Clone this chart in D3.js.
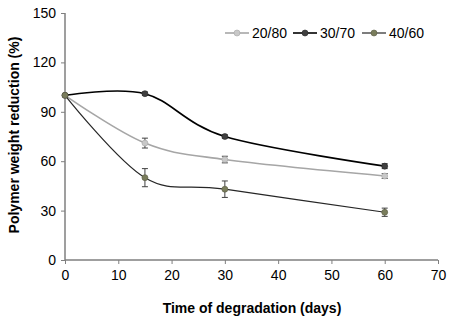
<!DOCTYPE html>
<html>
<head>
<meta charset="utf-8" />
<title>Polymer weight reduction</title>
<style>
  body { margin: 0; background: #fff; }
  svg text { font-family: "Liberation Sans", Arial, sans-serif; fill: #000; }
  .axis path, .axis line { stroke: #7f7f7f; }
</style>
</head>
<body>
<div id="chart"></div>
<script src="https://d3js.org/d3.v7.min.js"></script>
<script>
// days of degradation
const days = [0, 15, 30, 60];
const seriesNames = ["20/80", "30/70", "40/60"];
const vals2080 = [100, 71, 61, 51];
const vals3070 = [100, 101, 75, 57];
const vals4060 = [100, 50, 43, 29];
const err2080 = [0, 3, 2, 1.5];
const err3070 = [0, 1, 1, 1.5];
const err4060 = [0, 5.5, 5, 2.5];
const xTicks = [0, 10, 20, 30, 40, 50, 60, 70];
const yTicks = [0, 30, 60, 90, 120, 150];

const width = 450, height = 321;
const svg = d3.select("#chart").append("svg")
  .attr("width", width)
  .attr("height", height);

const x = d3.scaleLinear().domain([0, 70]).range([65, 438]);
const y = d3.scaleLinear().domain([0, 150]).range([260, 13]);

// axes
svg.append("g")
  .attr("class", "axis")
  .attr("transform", "translate(0,260)")
  .call(d3.axisBottom(x).tickValues(xTicks).tickSize(4).tickPadding(6).tickFormat(d3.format("d")))
  .call(g => g.selectAll("text").attr("font-size", 14).style("fill", "#000"))
  .call(g => g.select(".domain").attr("d", "M65,0H438").attr("stroke-width", 1.5));

svg.append("g")
  .attr("class", "axis")
  .attr("transform", "translate(65,0)")
  .call(d3.axisLeft(y).tickValues(yTicks).tickSize(4).tickPadding(5).tickFormat(d3.format("d")))
  .call(g => g.selectAll("text").attr("font-size", 14).style("fill", "#000"))
  .call(g => g.select(".domain").attr("d", "M0,13V260").attr("stroke-width", 1.5));

const series = [
  { name: seriesNames[0], vals: vals2080, err: err2080, line: "#a6a6a6", marker: "#c8c8c8", stroke: "#a6a6a6", lw: 1.6 },
  { name: seriesNames[1], vals: vals3070, err: err3070, line: "#000000", marker: "#404040", stroke: "#262626", lw: 1.6 },
  { name: seriesNames[2], vals: vals4060, err: err4060, line: "#262626", marker: "#7a7d5c", stroke: "#5a5c45", lw: 1.2 }
];

const line = d3.line()
  .x(d => x(d[0]))
  .y(d => y(d[1]))
  .curve(d3.curveCardinal.tension(0));

// error bars
series.forEach(s => {
  const g = svg.append("g");
  days.forEach((d, i) => {
    if (!s.err[i]) return;
    const cx = x(d), top = y(s.vals[i] + s.err[i]), bot = y(s.vals[i] - s.err[i]);
    g.append("line").attr("x1", cx).attr("x2", cx).attr("y1", top).attr("y2", bot)
      .attr("stroke", "#404040").attr("stroke-width", 1);
    [top, bot].forEach(yy => g.append("line")
      .attr("x1", cx - 3).attr("x2", cx + 3).attr("y1", yy).attr("y2", yy)
      .attr("stroke", "#404040").attr("stroke-width", 1));
  });
});

// lines and markers
series.forEach(s => {
  const pts = days.map((d, i) => [d, s.vals[i]]);
  svg.append("path")
    .datum(pts)
    .attr("fill", "none")
    .attr("stroke", s.line)
    .attr("stroke-width", s.lw)
    .attr("d", line);
  svg.selectAll(null)
    .data(pts)
    .enter()
    .append("circle")
    .attr("cx", d => x(d[0]))
    .attr("cy", d => y(d[1]))
    .attr("r", 3)
    .attr("fill", s.marker)
    .attr("stroke", s.stroke)
    .attr("stroke-width", 0.6);
});

// legend
const legendX = [225, 293, 362];
series.forEach((s, i) => {
  const lg = svg.append("g").attr("transform", `translate(${legendX[i]},33)`);
  lg.append("line").attr("x1", 0).attr("x2", 24).attr("y1", 0).attr("y2", 0)
    .attr("stroke", s.line).attr("stroke-width", s.lw);
  lg.append("circle").attr("cx", 12).attr("cy", 0).attr("r", 3)
    .attr("fill", s.marker).attr("stroke", s.stroke).attr("stroke-width", 0.6);
  lg.append("text").attr("x", 27).attr("y", 5).attr("font-size", 14).text(s.name);
});

// axis titles
svg.append("text")
  .attr("x", 252)
  .attr("y", 313)
  .attr("text-anchor", "middle")
  .attr("font-size", 14)
  .attr("font-weight", "bold")
  .text("Time of degradation (days)");

svg.append("text")
  .attr("transform", "translate(19,135) rotate(-90)")
  .attr("text-anchor", "middle")
  .attr("font-size", 14)
  .attr("font-weight", "bold")
  .text("Polymer weight reduction (%)");
</script>
</body>
</html>
